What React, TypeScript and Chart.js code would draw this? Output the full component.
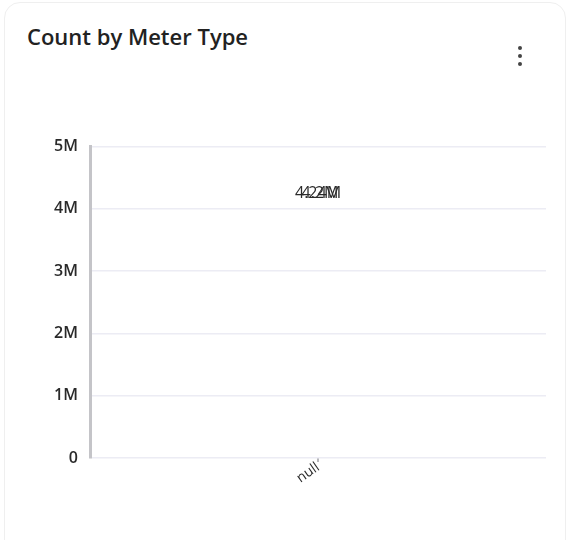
import React, { useEffect, useRef } from "react";
import { Chart, registerables } from "chart.js";

Chart.register(...registerables);

const categories = ["null"];
const countValues = [4240000];
const dataLabels = ["4.24M"];
const overlapLabels = ["4.2M"];
const yTicks = [0, 1000000, 2000000, 3000000, 4000000, 5000000];
const yTickLabels = ["0", "1M", "2M", "3M", "4M", "5M"];

const FONT = "'Open Sans', 'Noto Sans', Arial, sans-serif";

const labelPlugin = {
  id: "valueLabels",
  afterDatasetsDraw(chart: any) {
    const ctx = chart.ctx;
    const meta = chart.getDatasetMeta(0);
    ctx.save();
    ctx.font = "16px 'Open Sans', Arial, sans-serif";
    ctx.fillStyle = "#2a2a2a";
    ctx.textAlign = "center";
    ctx.textBaseline = "middle";
    meta.data.forEach((el: any, i: number) => {
      ctx.fillText(dataLabels[i], el.x, el.y);
      ctx.fillText(overlapLabels[i], el.x + 2, el.y);
    });
    ctx.restore();
  },
};

export default function App() {
  const ref = useRef<HTMLCanvasElement | null>(null);
  useEffect(() => {
    if (!ref.current) return;
    const chart = new Chart(ref.current, {
      type: "bar",
      data: {
        labels: categories,
        datasets: [
          {
            label: "Count",
            data: countValues,
            backgroundColor: "rgba(0,0,0,0)",
            borderWidth: 0,
          },
        ],
      },
      options: {
        animation: false,
        responsive: false,
        maintainAspectRatio: false,
        layout: { padding: 0 },
        plugins: {
          legend: { display: false },
          tooltip: { enabled: false },
        },
        scales: {
          x: {
            grid: {
              display: true,
              offset: false,
              drawOnChartArea: false,
              drawTicks: true,
              tickLength: 4,
              color: "#b8b8bc",
              lineWidth: 2,
            },
            border: { display: false },
            ticks: {
              font: { family: FONT, size: 14 },
              color: "#2a2a2a",
              minRotation: 35,
              maxRotation: 35,
              padding: -3,
            },
            afterFit: (s: any) => {
              s.height = 50;
            },
          },
          y: {
            min: 0,
            max: 5000000,
            afterBuildTicks: (s: any) => {
              s.ticks = yTicks.map((v) => ({ value: v }));
            },
            ticks: {
              font: { family: FONT, size: 16, weight: 600 },
              color: "#2a2a2a",
              padding: 12,
              callback: (v: any) => yTickLabels[yTicks.indexOf(Number(v))] ?? "",
            },
            grid: { color: "#ececf4", drawTicks: false, lineWidth: 1.5 },
            border: { display: true, color: "#c4c4c8", width: 3 },
            afterFit: (s: any) => {
              s.width = 40;
            },
          },
        },
      },
      plugins: [labelPlugin],
    });
    return () => chart.destroy();
  }, []);

  return (
    <div
      style={{
        position: "absolute",
        left: 4,
        top: 2,
        width: 562,
        height: 560,
        border: "1.5px solid #efefef",
        borderRadius: 16,
        background: "#fff",
        boxSizing: "border-box",
        fontFamily: FONT,
      }}
    >
      <div
        style={{
          position: "absolute",
          left: 22,
          top: 18,
          fontSize: 22,
          fontWeight: 600,
          color: "#222",
          fontFamily: FONT,
          letterSpacing: 0,
        }}
      >
        Count by Meter Type
      </div>
      <div
        style={{
          position: "absolute",
          left: 513,
          top: 43,
          display: "flex",
          flexDirection: "column",
          gap: 4,
        }}
      >
        {[0, 1, 2].map((i) => (
          <div
            key={i}
            style={{ width: 4, height: 4, borderRadius: 2, background: "#444" }}
          />
        ))}
      </div>
      <canvas
        ref={ref}
        width={496}
        height={383}
        style={{ position: "absolute", left: 45, top: 122, width: 496, height: 383 }}
      />
    </div>
  );
}
